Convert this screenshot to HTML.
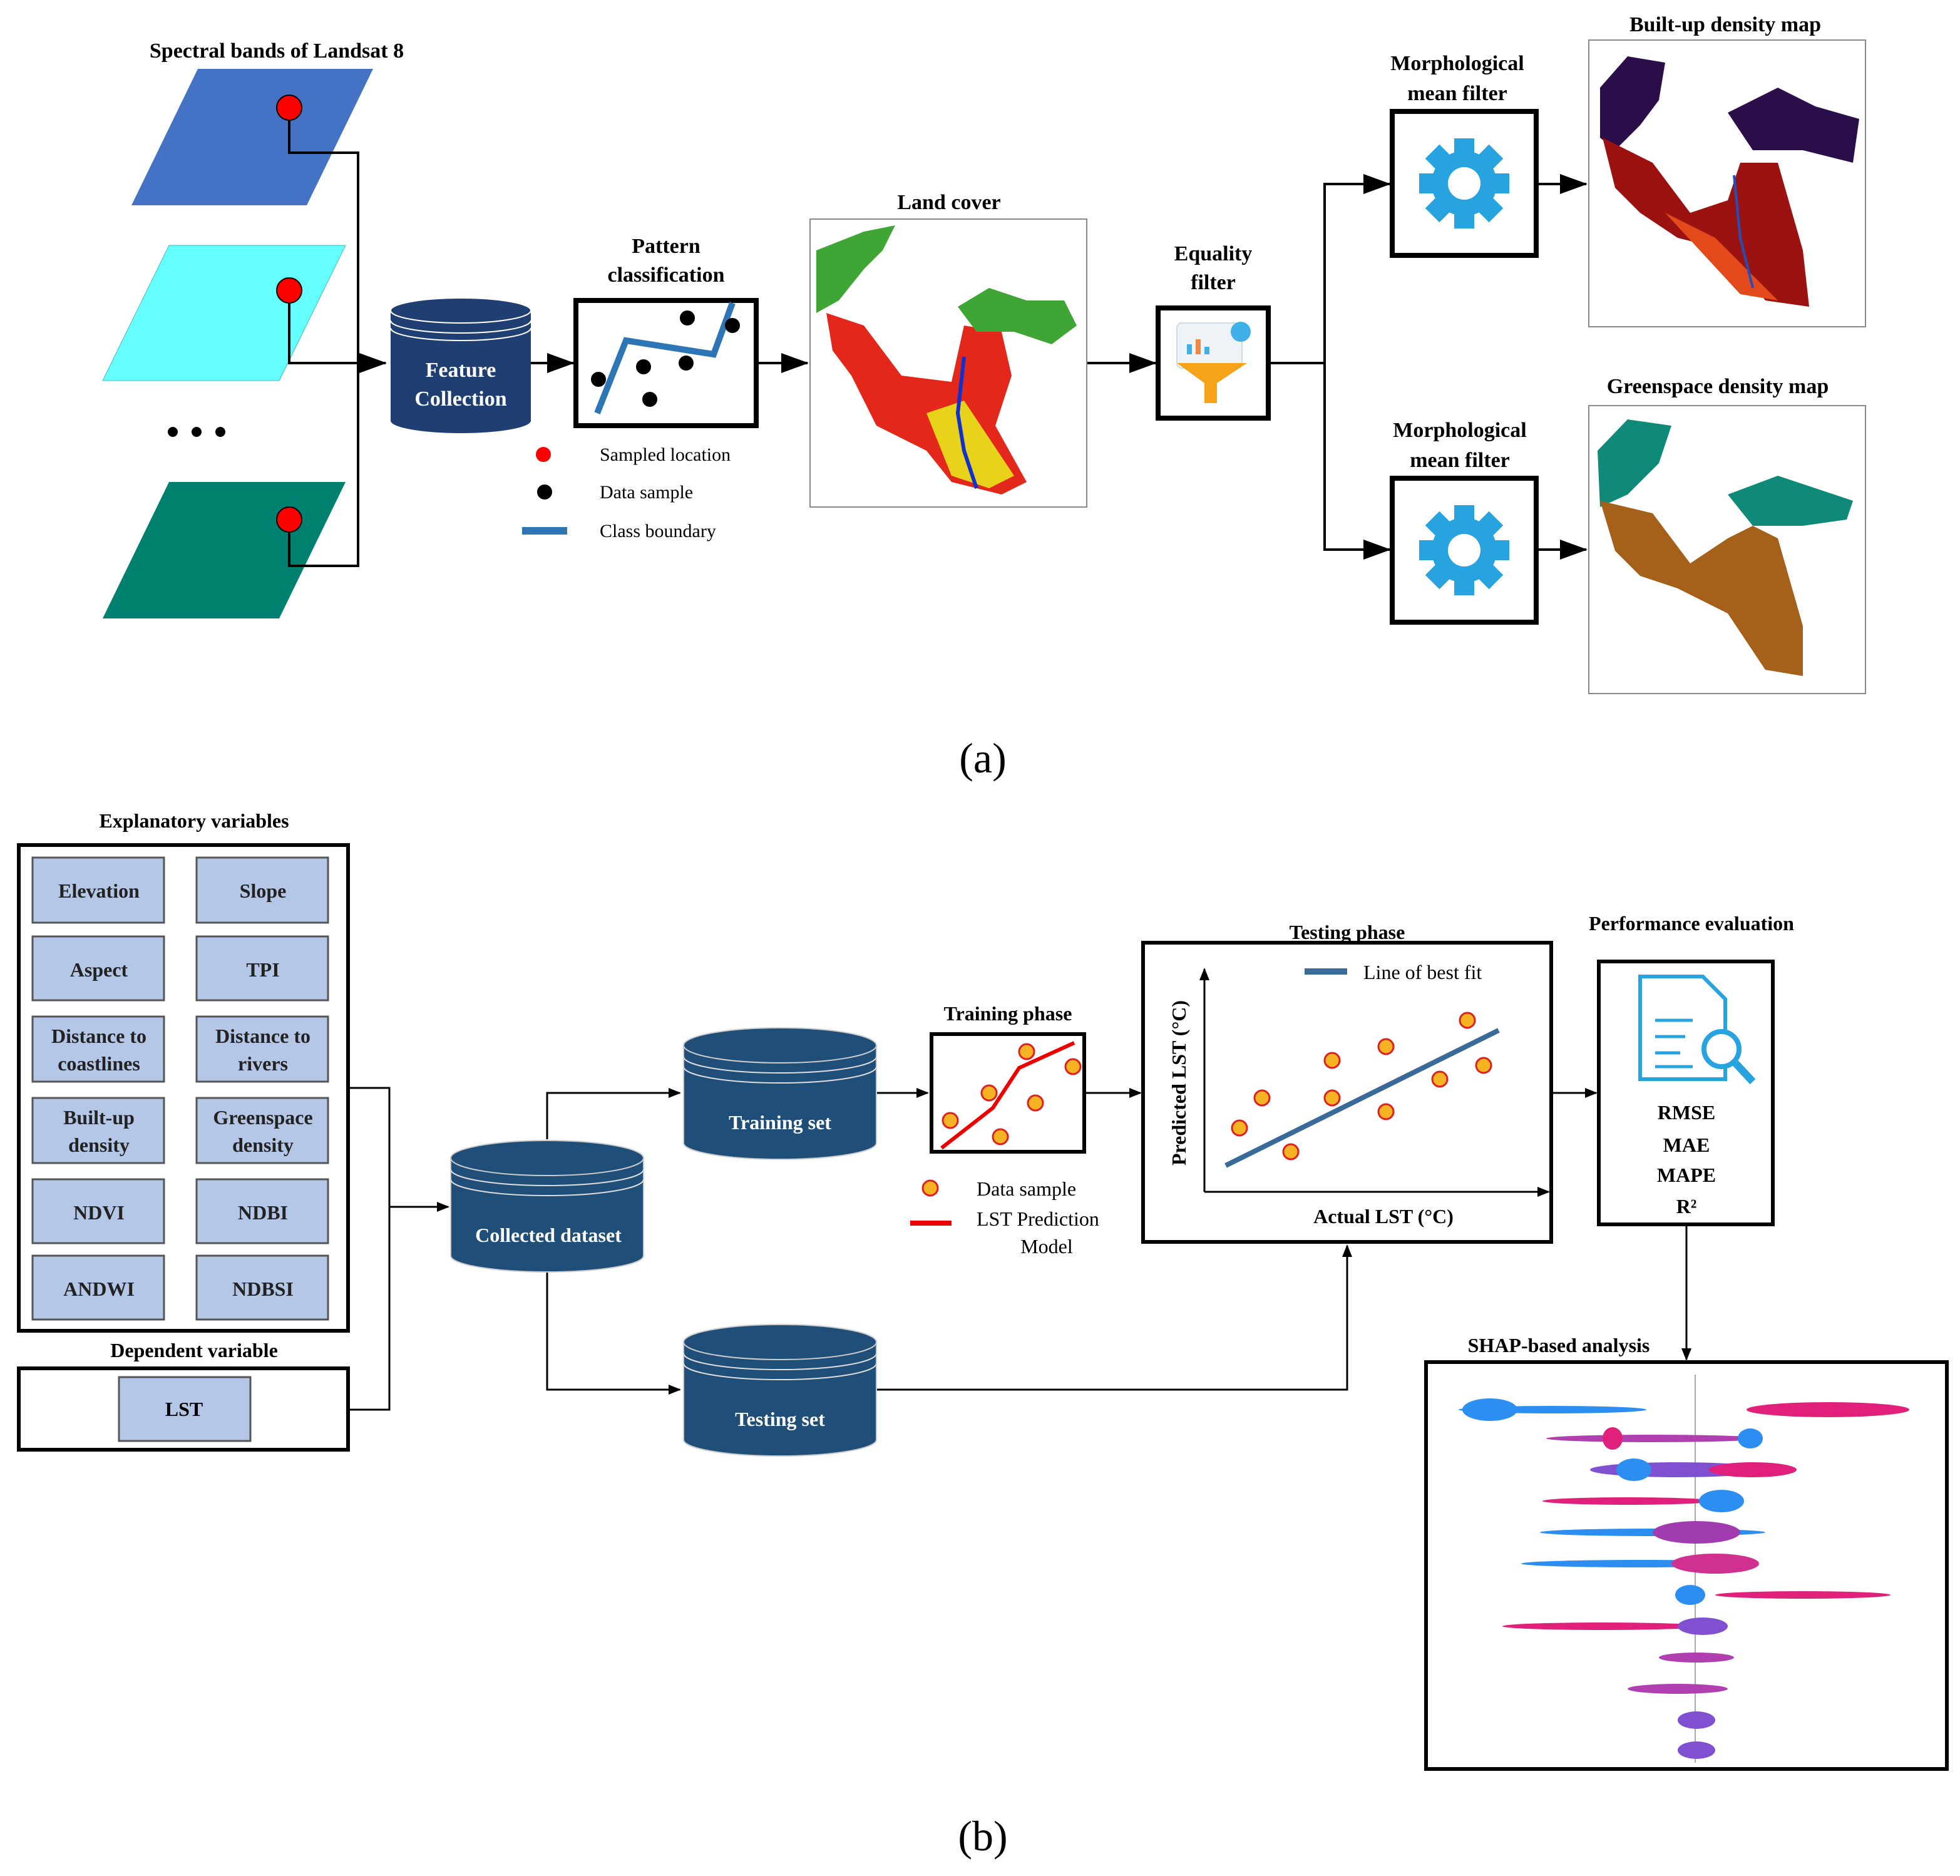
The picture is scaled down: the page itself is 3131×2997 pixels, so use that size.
<!DOCTYPE html>
<html><head><meta charset="utf-8"><style>html,body{margin:0;padding:0;background:#fff}svg{display:block;font-family:'Liberation Serif',serif}</style></head><body>
<svg width="3131" height="2997" viewBox="0 0 1565.5 1498.5" xmlns="http://www.w3.org/2000/svg" font-family="'Liberation Serif', serif">
<defs>
<marker id="ar" markerWidth="10" markerHeight="8" refX="9" refY="4" orient="auto" markerUnits="userSpaceOnUse"><path d="M0,0L10,4L0,8z" fill="#000"/></marker>
<marker id="ab" markerWidth="22" markerHeight="16" refX="21" refY="8" orient="auto" markerUnits="userSpaceOnUse"><path d="M0,0L22,8L0,16z" fill="#000"/></marker>
</defs>
<rect width="1565.5" height="1498.5" fill="#fff"/>
<g font-weight="bold" font-size="17" text-anchor="middle" fill="#000">
<text x="221" y="46">Spectral bands of Landsat 8</text>
<text x="532" y="202">Pattern</text><text x="532" y="225">classification</text>
<text x="758" y="167">Land cover</text>
<text x="969" y="208">Equality</text><text x="969" y="231">filter</text>
<text x="1164" y="56">Morphological</text><text x="1164" y="80">mean filter</text>
<text x="1166" y="349">Morphological</text><text x="1166" y="373">mean filter</text>
<text x="1378" y="25">Built-up density map</text>
<text x="1372" y="314">Greenspace density map</text>
</g>
<polygon points="105,164 158,55 298,55 245,164" fill="#4472C4"/>
<polygon points="82,304 135,196 276,196 223,304" fill="#66FFFF" stroke="#4bb" stroke-width="0.5"/>
<polygon points="82,494 135,385 276,385 223,494" fill="#00806F"/>
<circle cx="138" cy="345" r="4"/><circle cx="157" cy="345" r="4"/><circle cx="176" cy="345" r="4"/>
<g fill="none" stroke="#000" stroke-width="2">
<polyline points="231,86 231,122 286,122 286,452 231,452 231,415"/>
<polyline points="231,232 231,290 308,290" marker-end="url(#ab)"/>
<line x1="424" y1="290" x2="458" y2="290" marker-end="url(#ab)"/>
<line x1="604" y1="290" x2="645" y2="290" marker-end="url(#ab)"/>
<line x1="868" y1="290" x2="923" y2="290" marker-end="url(#ab)"/>
<polyline points="1013,290 1058,290"/>
<polyline points="1110,147 1058,147 1058,439 1110,439" />
<line x1="1058" y1="147" x2="1110" y2="147" marker-end="url(#ab)"/>
<line x1="1058" y1="439" x2="1110" y2="439" marker-end="url(#ab)"/>
<line x1="1227" y1="147" x2="1267" y2="147" marker-end="url(#ab)"/>
<line x1="1227" y1="439" x2="1267" y2="439" marker-end="url(#ab)"/>
</g>
<g fill="#f00" stroke="#000" stroke-width="1"><circle cx="231" cy="86" r="10"/><circle cx="231" cy="232" r="10"/><circle cx="231" cy="415" r="10"/></g>
<path d="M312,248 L312,336 A56,10 0 0 0 424,336 L424,248 Z" fill="#1F3F72"/>
<ellipse cx="368" cy="248" rx="56" ry="10" fill="#1F3F72" stroke="#fff" stroke-width="1"/>
<path d="M312,256 A56,10 0 0 0 424,256 M312,262 A56,10 0 0 0 424,262" fill="none" stroke="#fff" stroke-width="1"/>
<text x="368" y="301" font-size="17" font-weight="bold" fill="#fff" text-anchor="middle">Feature</text>
<text x="368" y="324" font-size="17" font-weight="bold" fill="#fff" text-anchor="middle">Collection</text>
<rect x="460" y="240" width="144" height="100" fill="#fff" stroke="#000" stroke-width="4"/>
<polyline points="477,330 500,272 570,283 585,242" fill="none" stroke="#2E75B6" stroke-width="5"/>
<g fill="#000"><circle cx="549" cy="254" r="6"/><circle cx="585" cy="260" r="6"/><circle cx="478" cy="303" r="6"/><circle cx="514" cy="293" r="6"/><circle cx="548" cy="290" r="6"/><circle cx="519" cy="319" r="6"/></g>
<circle cx="434" cy="363" r="6" fill="#f00"/><circle cx="435" cy="393" r="6" fill="#000"/>
<line x1="417" y1="424" x2="453" y2="424" stroke="#2E75B6" stroke-width="6"/>
<g font-size="15" fill="#000"><text x="479" y="368">Sampled location</text><text x="479" y="398">Data sample</text><text x="479" y="429">Class boundary</text></g>
<rect x="647" y="175" width="221" height="230" fill="#fff" stroke="#888" stroke-width="1"/>
<polygon points="652,200 690,185 715,180 705,200 690,215 670,240 652,250" fill="#3fa535"/>
<polygon points="660,250 690,260 720,300 760,305 770,260 800,265 808,300 795,340 820,385 800,395 760,385 740,360 700,340 680,300 665,280" fill="#e3271b"/>
<polygon points="765,245 790,230 820,240 850,240 860,260 840,275 810,265 780,265" fill="#3fa535"/>
<polygon points="740,330 770,320 790,350 810,380 790,390 760,380" fill="#e8d21a"/>
<polyline points="770,285 765,330 770,360 780,390" fill="none" stroke="#1030d0" stroke-width="3"/>
<rect x="925" y="246" width="88" height="88" fill="#fff" stroke="#000" stroke-width="4"/>
<rect x="940" y="258" width="52" height="36" rx="4" fill="#eef3f7" stroke="#cdd" />
<circle cx="991" cy="265" r="8" fill="#3fb0e8"/>
<polygon points="940,290 996,290 972,306 972,322 962,322 962,306" fill="#f6a31a"/>
<rect x="948" y="275" width="4" height="8" fill="#3fb0e8"/><rect x="955" y="271" width="4" height="12" fill="#e84"/><rect x="962" y="277" width="4" height="6" fill="#3fb0e8"/>
<g id="gbox">
<rect x="1112" y="89" width="115" height="115" fill="#fff" stroke="#000" stroke-width="4"/>
<g transform="translate(1169.5,146.5)" fill="#27A3E0">
<circle r="26"/>
<g><rect x="-8" y="-36" width="16" height="14"/><rect x="-8" y="22" width="16" height="14"/><rect x="-36" y="-8" width="14" height="16"/><rect x="22" y="-8" width="14" height="16"/></g>
<g transform="rotate(45)"><rect x="-8" y="-36" width="16" height="14"/><rect x="-8" y="22" width="16" height="14"/><rect x="-36" y="-8" width="14" height="16"/><rect x="22" y="-8" width="14" height="16"/></g>
<circle r="13" fill="#fff"/></g>
</g>
<use href="#gbox" transform="translate(0,293)"/>
<rect x="1269" y="32" width="221" height="229" fill="#fff" stroke="#888"/>
<polygon points="1278,70 1300,45 1330,50 1325,80 1310,100 1290,120 1278,110" fill="#2a0e4a"/>
<polygon points="1280,110 1320,130 1350,170 1380,160 1390,130 1420,130 1440,200 1445,245 1410,240 1380,200 1340,190 1310,170 1290,150" fill="#9b1210"/>
<polygon points="1380,90 1420,70 1450,85 1485,95 1480,130 1440,120 1400,120" fill="#2a0e4a"/>
<polygon points="1330,170 1370,190 1400,220 1420,240 1390,235" fill="#e34a1b"/>
<polyline points="1385,140 1390,190 1400,230" fill="none" stroke="#2050c0" stroke-width="2"/>
<rect x="1269" y="324" width="221" height="230" fill="#fff" stroke="#888"/>
<polygon points="1276,360 1300,335 1335,340 1325,370 1300,395 1278,405" fill="#0f8a78"/>
<polygon points="1278,400 1320,410 1350,450 1380,430 1400,420 1420,430 1440,500 1440,540 1410,535 1380,490 1340,470 1310,460 1290,440" fill="#a5601a"/>
<polygon points="1380,395 1420,380 1450,390 1480,400 1475,415 1440,420 1400,420" fill="#0f8a78"/>
<text x="785" y="617" font-size="34" text-anchor="middle">(a)</text>

<g font-weight="bold" font-size="16" text-anchor="middle" fill="#000">
<text x="155" y="661">Explanatory variables</text>
<text x="155" y="1084">Dependent variable</text>
<text x="805" y="815">Training phase</text>
<text x="1076" y="750">Testing phase</text>
<text x="1351" y="743">Performance evaluation</text>
<text x="1245" y="1080">SHAP-based analysis</text>
</g>
<rect x="15" y="675" width="263" height="388" fill="#fff" stroke="#000" stroke-width="3"/>
<g fill="#B4C7E7" stroke="#555" stroke-width="1.5">
<rect x="26" y="685" width="105" height="52"/><rect x="157" y="685" width="105" height="52"/>
<rect x="26" y="748" width="105" height="51"/><rect x="157" y="748" width="105" height="51"/>
<rect x="26" y="812" width="105" height="52"/><rect x="157" y="812" width="105" height="52"/>
<rect x="26" y="877" width="105" height="52"/><rect x="157" y="877" width="105" height="52"/>
<rect x="26" y="942" width="105" height="51"/><rect x="157" y="942" width="105" height="51"/>
<rect x="26" y="1003" width="105" height="51"/><rect x="157" y="1003" width="105" height="51"/>
</g>
<g font-weight="bold" font-size="16" text-anchor="middle" fill="#222">
<text x="79" y="717">Elevation</text><text x="210" y="717">Slope</text>
<text x="79" y="780">Aspect</text><text x="210" y="780">TPI</text>
<text x="79" y="833">Distance to</text><text x="79" y="855">coastlines</text>
<text x="210" y="833">Distance to</text><text x="210" y="855">rivers</text>
<text x="79" y="898">Built-up</text><text x="79" y="920">density</text>
<text x="210" y="898">Greenspace</text><text x="210" y="920">density</text>
<text x="79" y="974">NDVI</text><text x="210" y="974">NDBI</text>
<text x="79" y="1035">ANDWI</text><text x="210" y="1035">NDBSI</text>
</g>
<rect x="15" y="1093" width="263" height="65" fill="#fff" stroke="#000" stroke-width="3"/>
<rect x="95" y="1100" width="105" height="51" fill="#B4C7E7" stroke="#555" stroke-width="1.5"/>
<text x="147" y="1131" font-weight="bold" font-size="16" text-anchor="middle">LST</text>
<g fill="none" stroke="#000" stroke-width="1.5">
<polyline points="278,869 311,869 311,1126 278,1126"/>
<line x1="311" y1="964" x2="358" y2="964" marker-end="url(#ar)"/>
<polyline points="437,910 437,873 543,873" marker-end="url(#ar)"/>
<polyline points="437,1016 437,1110 543,1110" marker-end="url(#ar)"/>
<line x1="699" y1="873" x2="741" y2="873" marker-end="url(#ar)"/>
<line x1="866" y1="873" x2="911" y2="873" marker-end="url(#ar)"/>
<polyline points="699,1110 1076,1110 1076,995" marker-end="url(#ar)"/>
<line x1="1239" y1="873" x2="1275" y2="873" marker-end="url(#ar)"/>
<line x1="1347" y1="978" x2="1347" y2="1086" marker-end="url(#ar)"/>
</g>
<g id="cyl">
<path d="M360,925 L360,1003 A77,13 0 0 0 514,1003 L514,925 Z" fill="#1F4E79" stroke="#ccc"/>
<ellipse cx="437" cy="925" rx="77" ry="14" fill="#1F4E79" stroke="#ccc"/>
<path d="M360,934 A77,13 0 0 0 514,934 M360,942 A77,13 0 0 0 514,942" fill="none" stroke="#ddd"/>
</g>
<text x="438" y="992" font-weight="bold" font-size="16" text-anchor="middle" fill="#fff">Collected dataset</text>
<use href="#cyl" transform="translate(186,-90)"/>
<text x="623" y="902" font-weight="bold" font-size="16" text-anchor="middle" fill="#fff">Training  set</text>
<use href="#cyl" transform="translate(186,147)"/>
<text x="623" y="1139" font-weight="bold" font-size="16" text-anchor="middle" fill="#fff">Testing  set</text>
<rect x="744" y="826" width="122" height="94" fill="#fff" stroke="#000" stroke-width="3"/>
<polyline points="752,917 793,885 814,853 858,833" fill="none" stroke="#e00" stroke-width="3"/>
<g fill="#F5B324" stroke="#e02020" stroke-width="1.5">
<circle cx="820" cy="840" r="6"/><circle cx="857" cy="852" r="6"/><circle cx="790" cy="873" r="6"/><circle cx="827" cy="881" r="6"/><circle cx="759" cy="895" r="6"/><circle cx="799" cy="908" r="6"/>
<circle cx="743" cy="949" r="6"/>
</g>
<line x1="727" y1="977" x2="760" y2="977" stroke="#e00" stroke-width="4"/>
<g font-size="16"><text x="780" y="955">Data sample</text><text x="780" y="979">LST Prediction</text><text x="836" y="1001" text-anchor="middle">Model</text></g>
<rect x="913" y="753" width="326" height="239" fill="#fff" stroke="#000" stroke-width="3"/>
<g fill="none" stroke="#000" stroke-width="1.5">
<line x1="962" y1="952" x2="962" y2="774" marker-end="url(#ar)"/>
<line x1="962" y1="952" x2="1237" y2="952" marker-end="url(#ar)"/>
</g>
<line x1="979" y1="931" x2="1197" y2="823" stroke="#3A6A9A" stroke-width="4"/>
<line x1="1042" y1="776" x2="1076" y2="776" stroke="#3A6A9A" stroke-width="5"/>
<text x="1089" y="782" font-size="16">Line of best fit</text>
<g fill="#F5B324" stroke="#e02020" stroke-width="1.5">
<circle cx="1172" cy="815" r="6"/><circle cx="1107" cy="836" r="6"/><circle cx="1064" cy="847" r="6"/><circle cx="1185" cy="851" r="6"/><circle cx="1150" cy="862" r="6"/><circle cx="1008" cy="877" r="6"/><circle cx="1064" cy="877" r="6"/><circle cx="1107" cy="888" r="6"/><circle cx="990" cy="901" r="6"/><circle cx="1031" cy="920" r="6"/>
</g>
<text x="947" y="865" font-weight="bold" font-size="16" text-anchor="middle" transform="rotate(-90 947 865)">Predicted LST (°C)</text>
<text x="1105" y="977" font-weight="bold" font-size="16" text-anchor="middle">Actual LST (°C)</text>
<rect x="1277" y="768" width="139" height="210" fill="#fff" stroke="#000" stroke-width="3"/>
<path d="M1310,780 L1360,780 L1378,798 L1378,862 L1310,862 Z" fill="none" stroke="#27A3E0" stroke-width="3"/>
<path d="M1322,815 h30 M1322,828 h24 M1322,841 h20 M1322,852 h30" stroke="#27A3E0" stroke-width="2.5"/>
<circle cx="1375" cy="838" r="14" fill="#fff" stroke="#27A3E0" stroke-width="4"/>
<line x1="1385" y1="848" x2="1400" y2="864" stroke="#27A3E0" stroke-width="6"/>
<g font-weight="bold" font-size="16" text-anchor="middle"><text x="1347" y="894">RMSE</text><text x="1347" y="920">MAE</text><text x="1347" y="944">MAPE</text><text x="1347" y="969">R²</text></g>
<rect x="1139" y="1088" width="416" height="325" fill="#fff" stroke="#000" stroke-width="3"/>
<line x1="1354" y1="1098" x2="1354" y2="1408" stroke="#aaa"/>
<g>
<ellipse cx="1240" cy="1126" rx="75" ry="3" fill="#2b8ef0"/><ellipse cx="1190" cy="1126" rx="22" ry="9" fill="#2b8ef0"/><ellipse cx="1460" cy="1126" rx="65" ry="6" fill="#e0207a"/>
<ellipse cx="1320" cy="1149" rx="85" ry="3" fill="#b040b0"/><ellipse cx="1288" cy="1149" rx="8" ry="9" fill="#e0207a"/><ellipse cx="1398" cy="1149" rx="10" ry="8" fill="#2b8ef0"/>
<ellipse cx="1340" cy="1174" rx="70" ry="6" fill="#8050d0"/><ellipse cx="1305" cy="1174" rx="14" ry="9" fill="#2b8ef0"/><ellipse cx="1400" cy="1174" rx="35" ry="6" fill="#e0207a"/>
<ellipse cx="1300" cy="1199" rx="68" ry="3" fill="#e0207a"/><ellipse cx="1375" cy="1199" rx="18" ry="9" fill="#2b8ef0"/>
<ellipse cx="1320" cy="1224" rx="90" ry="3" fill="#2b8ef0"/><ellipse cx="1355" cy="1224" rx="35" ry="9" fill="#a03cb0"/>
<ellipse cx="1310" cy="1249" rx="95" ry="3" fill="#2b8ef0"/><ellipse cx="1370" cy="1249" rx="35" ry="8" fill="#d03090"/>
<ellipse cx="1350" cy="1274" rx="12" ry="8" fill="#2b8ef0"/><ellipse cx="1440" cy="1274" rx="70" ry="3" fill="#e0207a"/>
<ellipse cx="1280" cy="1299" rx="80" ry="3" fill="#e0207a"/><ellipse cx="1360" cy="1299" rx="20" ry="7" fill="#8050d0"/>
<ellipse cx="1355" cy="1324" rx="30" ry="4" fill="#b040b0"/>
<ellipse cx="1340" cy="1349" rx="40" ry="4" fill="#b040b0"/>
<ellipse cx="1355" cy="1374" rx="15" ry="7" fill="#8050d0"/>
<ellipse cx="1355" cy="1398" rx="15" ry="7" fill="#8050d0"/>
</g>
<text x="785" y="1478" font-size="34" text-anchor="middle">(b)</text>
</svg>
</body></html>
